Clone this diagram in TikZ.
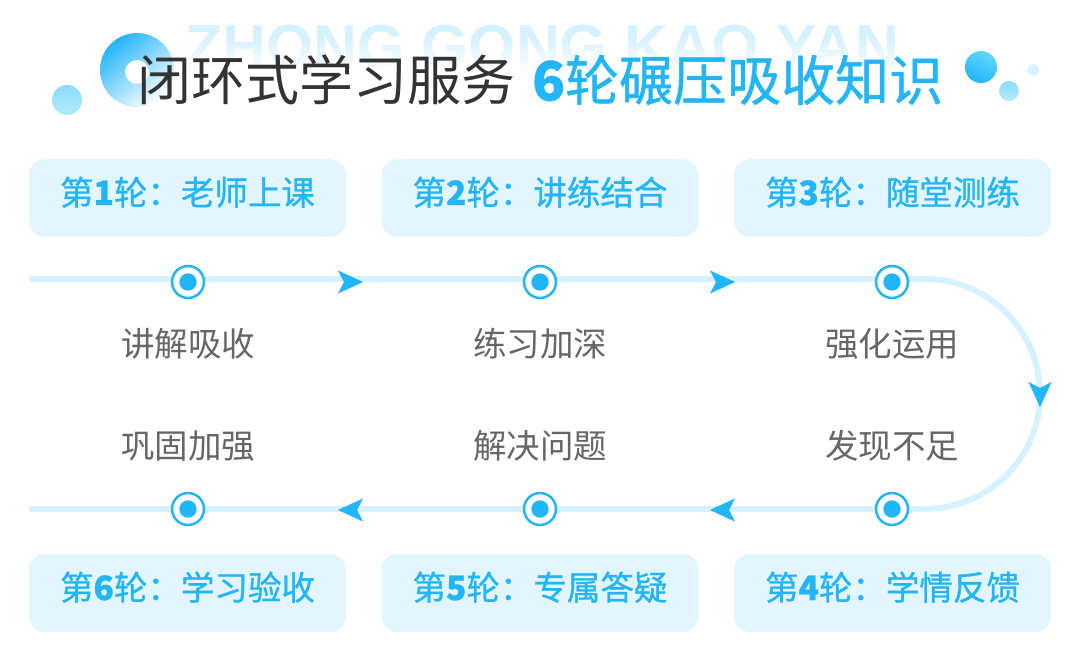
\documentclass[tikz,border=0pt]{standalone}
\usepackage{fontspec}
\usepackage{tikz}
\usetikzlibrary{arrows.meta,fadings}
\setmainfont{Noto Sans CJK SC}
\newfontfamily\cjkmed[FakeBold=0.9]{Noto Sans CJK SC}
\newfontfamily\wmfont{Liberation Sans}
\definecolor{flowblue}{HTML}{22B5F8}
\definecolor{flowpale}{HTML}{D6F1FF}
\definecolor{boxpale}{HTML}{E3F6FF}
\definecolor{titlegray}{HTML}{333333}
\definecolor{notegray}{HTML}{666666}
\definecolor{dotsky}{HTML}{62D6FE}
\definecolor{dotmid}{HTML}{8CDCFB}
\definecolor{dotsoft}{HTML}{B4EBFD}
\definecolor{dotpale}{HTML}{D8F4FF}
\pgfdeclarelayer{bg}
\pgfsetlayers{bg,main}
\tikzset{
    stagebox/.style={rectangle, rounded corners=16pt, fill=boxpale, minimum width=317pt, minimum height=78pt, inner sep=0pt, text=flowblue, text height=26pt, text depth=12pt, font=\fontsize{33.5}{38}\selectfont\cjkmed},
    ringdot/.style={circle, inner sep=0pt, minimum size=32pt, draw=flowblue, line width=2.5pt, fill=white, path picture={\fill[flowblue] (path picture bounding box.center) circle (8.7pt);}},
    note/.style={text=notegray, inner sep=0pt, font=\fontsize{33.5}{38}\selectfont},
    flowline/.style={draw=flowpale, line width=6pt, line cap=round},
    flowtip/.style={draw=flowblue, line width=.5pt, -{Stealth[color=flowblue, length=25pt, width=23pt, inset=6pt]}}
}
\begin{document}
\begin{tikzpicture}[x=1pt, y=-1pt]
        \useasboundingbox (0,0) rectangle (1080,663);
        \node (wm) [inner sep=0pt, text=flowpale, font=\fontsize{60.8}{62}\selectfont\wmfont\bfseries] at (542,47) {ZHONG GONG KAO YAN};
        \fill[white, path fading=north] (170,36) rectangle (910,72);
        \shade[top color=flowblue, middle color=flowblue, bottom color=white, shading angle=40, even odd rule] (137,70) circle (37pt) (137,72) circle (12pt);
        \shade[top color=dotmid, bottom color=dotsoft] (67,100) circle (15pt);
        \shade[top color=dotsky, bottom color=flowblue, shading angle=-25] (981,67) circle (16pt);
        \shade[top color=dotmid, bottom color=dotsoft] (1009,91) circle (10pt);
        \fill[dotpale] (1033,70) circle (6pt);
        \node (title) [anchor=west, inner sep=0pt, text=titlegray, font=\fontsize{54}{60}\selectfont] at (137,80) {闭环式学习服务};
        \node (key) [anchor=west, inner sep=0pt, text=flowblue, font=\fontsize{54}{60}\selectfont\cjkmed] at (532,80) {\textbf{6}轮碾压吸收知识};
        \node (b1) [stagebox] at (187.5,198) {第\textbf{1}轮：老师上课};
        \node (b2) [stagebox] at (540,198) {第\textbf{2}轮：讲练结合};
        \node (b3) [stagebox] at (892.5,198) {第\textbf{3}轮：随堂测练};
        \node (b4) [stagebox] at (892.5,593) {第\textbf{4}轮：学情反馈};
        \node (b5) [stagebox] at (540,593) {第\textbf{5}轮：专属答疑};
        \node (b6) [stagebox] at (187.5,593) {第\textbf{6}轮：学习验收};
        \node (v1) [ringdot] at (188,282) {};
        \node (v2) [ringdot] at (540,282) {};
        \node (v3) [ringdot] at (892,282) {};
        \node (v4) [ringdot] at (892,509) {};
        \node (v5) [ringdot] at (540,509) {};
        \node (v6) [ringdot] at (188,509) {};
        \node (n1) [note] at (188,344) {讲解吸收};
        \node (n2) [note] at (540,344) {练习加深};
        \node (n3) [note] at (892,344) {强化运用};
        \node (n4) [note] at (892,446) {发现不足};
        \node (n5) [note] at (540,446) {解决问题};
        \node (n6) [note] at (188,446) {巩固加强};
        \coordinate (s1) at (32,279);
        \coordinate (s6) at (32,509);
        \coordinate (c1) at (925,279);
        \coordinate (t1) at (363,282);
        \coordinate (t2) at (735,282);
        \coordinate (t3) at (1040,407);
        \coordinate (t4) at (710,510);
        \coordinate (t5) at (338,510);
        \begin{pgfonlayer}{bg}
                \draw[flowline] (s1) -- ([yshift=3pt]v1.west);
                \draw[flowline] ([yshift=3pt]v1.east) -- ([yshift=3pt]v2.west);
                \draw[flowline] ([yshift=3pt]v2.east) -- ([yshift=3pt]v3.west);
                \draw[flowline] ([yshift=3pt]v3.east) -- (c1) arc[start angle=90, end angle=-90, radius=115pt] -- (v4.east);
                \draw[flowline] (v4.west) -- (v5.east);
                \draw[flowline] (v5.west) -- (v6.east);
                \draw[flowline] (v6.west) -- (s6);
        \end{pgfonlayer}
        \draw[flowtip] ([xshift=-15pt]t1) -- (t1);
        \draw[flowtip] ([xshift=-15pt]t2) -- (t2);
        \draw[flowtip] ([yshift=15pt]t3) -- (t3);
        \draw[flowtip] ([xshift=15pt]t4) -- (t4);
        \draw[flowtip] ([xshift=15pt]t5) -- (t5);
\end{tikzpicture}
\end{document}
